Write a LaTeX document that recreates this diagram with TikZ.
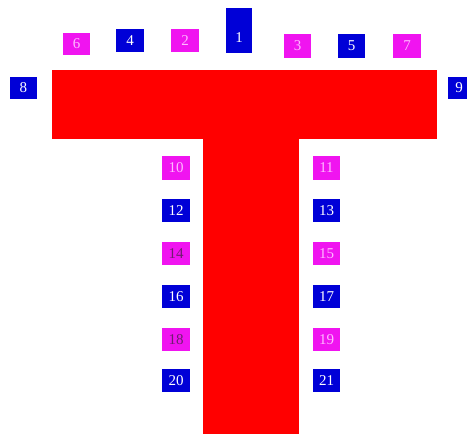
\documentclass[tikz,border=0pt]{standalone}
\usepackage{fontspec}
\setmainfont{Liberation Serif}
\definecolor{tred}{RGB}{255,0,0}
\definecolor{tblue}{RGB}{0,0,215}
\definecolor{tmag}{RGB}{240,20,240}
\definecolor{lpink}{RGB}{255,185,255}
\definecolor{dpurp}{RGB}{110,30,110}
\tikzset{
  pad/.style={inner sep=0pt, outer sep=0pt, anchor=north west, font=\fontsize{15}{15}\selectfont},
  bpad/.style={pad, fill=tblue, text=white},
  mpad/.style={pad, fill=tmag, text=lpink},
  mpaddark/.style={pad, fill=tmag, text=dpurp},
  lbl/.style={inner sep=0pt, font=\fontsize{15}{15}\selectfont, text=white}
}
% #1 style, #2 name, #3 x, #4 y, #5 w, #6 h, #7 text
\newcommand{\padbox}[7]{\node[#1, minimum width=#5pt, minimum height=#6pt] (#2) at (#3,#4) {#7};}
\begin{document}
\begin{tikzpicture}[x=1pt,y=-1pt]
\useasboundingbox (0,0) rectangle (467,435);
\fill[white] (0,0) rectangle (467,435);
% T shape
\fill[tred] (52,70) rectangle (437,139);
\fill[tred] (203,70) rectangle (299,434);
% top row
\padbox{mpad}{p6}{63}{33}{27}{22}{6}
\padbox{bpad}{p4}{116}{29}{28}{23}{4}
\padbox{mpad}{p2}{171}{29}{28}{23}{2}
\padbox{bpad}{p1}{226}{8}{26}{45}{}
\node[lbl] (t1) at (239,38) {1};
\padbox{mpad}{p3}{284}{34}{27}{24}{3}
\padbox{bpad}{p5}{338}{34}{27}{24}{5}
\padbox{mpad}{p7}{393}{34}{28}{24}{7}
% sides
\padbox{bpad}{p8}{10}{77}{27}{22}{8}
\begin{scope}
\clip (0,0) rectangle (467,435);
\node[pad, fill=tblue, minimum width=27pt, minimum height=22pt] (p9) at (448,77) {};
\node[lbl] (t9) at (459,88) {9};
\end{scope}
% left column
\padbox{mpad}{p10}{162}{156}{28}{24}{10}
\padbox{bpad}{p12}{162}{199}{28}{23}{12}
\padbox{mpaddark}{p14}{162}{242}{28}{23}{14}
\padbox{bpad}{p16}{162}{285}{28}{23}{16}
\padbox{mpaddark}{p18}{162}{328}{28}{23}{18}
\padbox{bpad}{p20}{162}{369}{28}{23}{20}
% right column
\padbox{mpad}{p11}{313}{156}{27}{24}{11}
\padbox{bpad}{p13}{313}{199}{27}{23}{13}
\padbox{mpad}{p15}{313}{242}{27}{23}{15}
\padbox{bpad}{p17}{313}{285}{27}{23}{17}
\padbox{mpad}{p19}{313}{328}{27}{23}{19}
\padbox{bpad}{p21}{313}{369}{27}{23}{21}
\end{tikzpicture}
\end{document}
